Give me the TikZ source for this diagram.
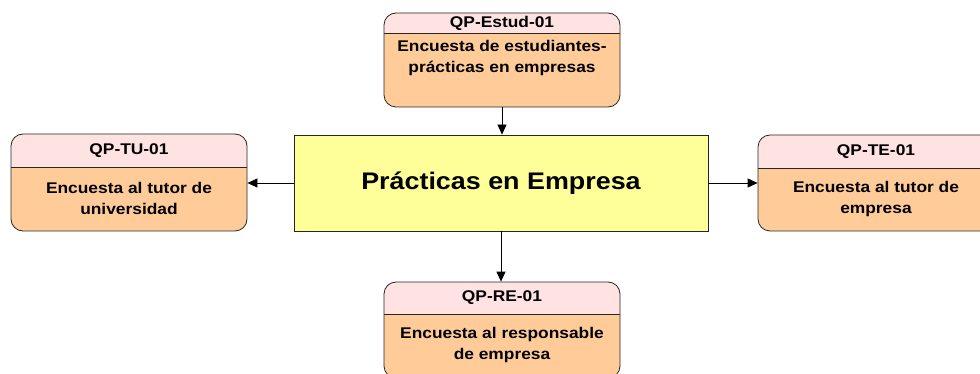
\documentclass[tikz,border=0pt]{standalone}
\usepackage{fontspec}
\setmainfont{Liberation Sans}[FakeStretch=1.12]
\usetikzlibrary{arrows.meta}
\definecolor{cabecera}{RGB}{255,226,226}
\definecolor{cuerpo}{RGB}{255,204,153}
\definecolor{centro}{RGB}{255,255,153}
\tikzset{
  encuesta/.style={draw=black!85, line width=0.8pt, rounded corners=12pt, fill=cuerpo,
    minimum width=236pt, inner sep=0pt,
    path picture={
      \fill[cabecera, sharp corners] (path picture bounding box.north west) rectangle ([yshift=-#1]path picture bounding box.north east);
      \draw[sharp corners] ([yshift=-#1]path picture bounding box.north west) -- ([yshift=-#1]path picture bounding box.north east);
    }},
  titulo/.style={font=\fontsize{15.5}{18}\selectfont\bfseries, inner sep=0pt},
  texto/.style={font=\fontsize{15.5}{21}\selectfont\bfseries, align=center, inner sep=0pt},
  flecha/.style={draw=black, line width=0.8pt, -{Triangle[length=10pt,width=9pt]}}
}
\begin{document}
\begin{tikzpicture}[x=1pt, y=-1pt]
    \useasboundingbox (0,0) rectangle (980,374);
    \clip (0,0) rectangle (980,374);

    \foreach \nom/\x/\y/\alt/\cab/\ty/\tit in {
      estud/502/60/94/20/23/QP-Estud-01,
      tu/129/182.5/97/33/150.5/QP-TU-01,
      te/876/183/96/33/151.5/QP-TE-01,
      re/502/330/96/32/298/QP-RE-01} {
      \node[encuesta=\cab pt, minimum height=\alt pt] (\nom) at (\x,\y) {};
      \node[titulo] (\nom-tit) at (\x,\ty) {\tit};
    }

    \node[texto] (estud-txt) at (502,58) {Encuesta de estudiantes-\\prácticas en empresas};
    \node[texto] (tu-txt) at (129,198) {Encuesta al tutor de\\universidad};
    \node[texto] (te-txt) at (876,198.5) {Encuesta al tutor de\\empresa};
    \node[texto] (re-txt) at (502,345) {Encuesta al responsable\\de empresa};

    \node[draw=black!85, line width=0.8pt, fill=centro, minimum width=414pt, minimum height=96pt,
      font=\fontsize{24}{28}\selectfont\bfseries] (practicas) at (501,183) {Prácticas en Empresa};

    \draw[flecha] (estud.south) -- (estud.south |- practicas.north);
    \draw[flecha] (practicas.west) -- (practicas.west -| tu.east);
    \draw[flecha] (practicas.east) -- (practicas.east -| te.west);
    \draw[flecha] (practicas.south) -- (practicas.south |- re.north);

\end{tikzpicture}
\end{document}
